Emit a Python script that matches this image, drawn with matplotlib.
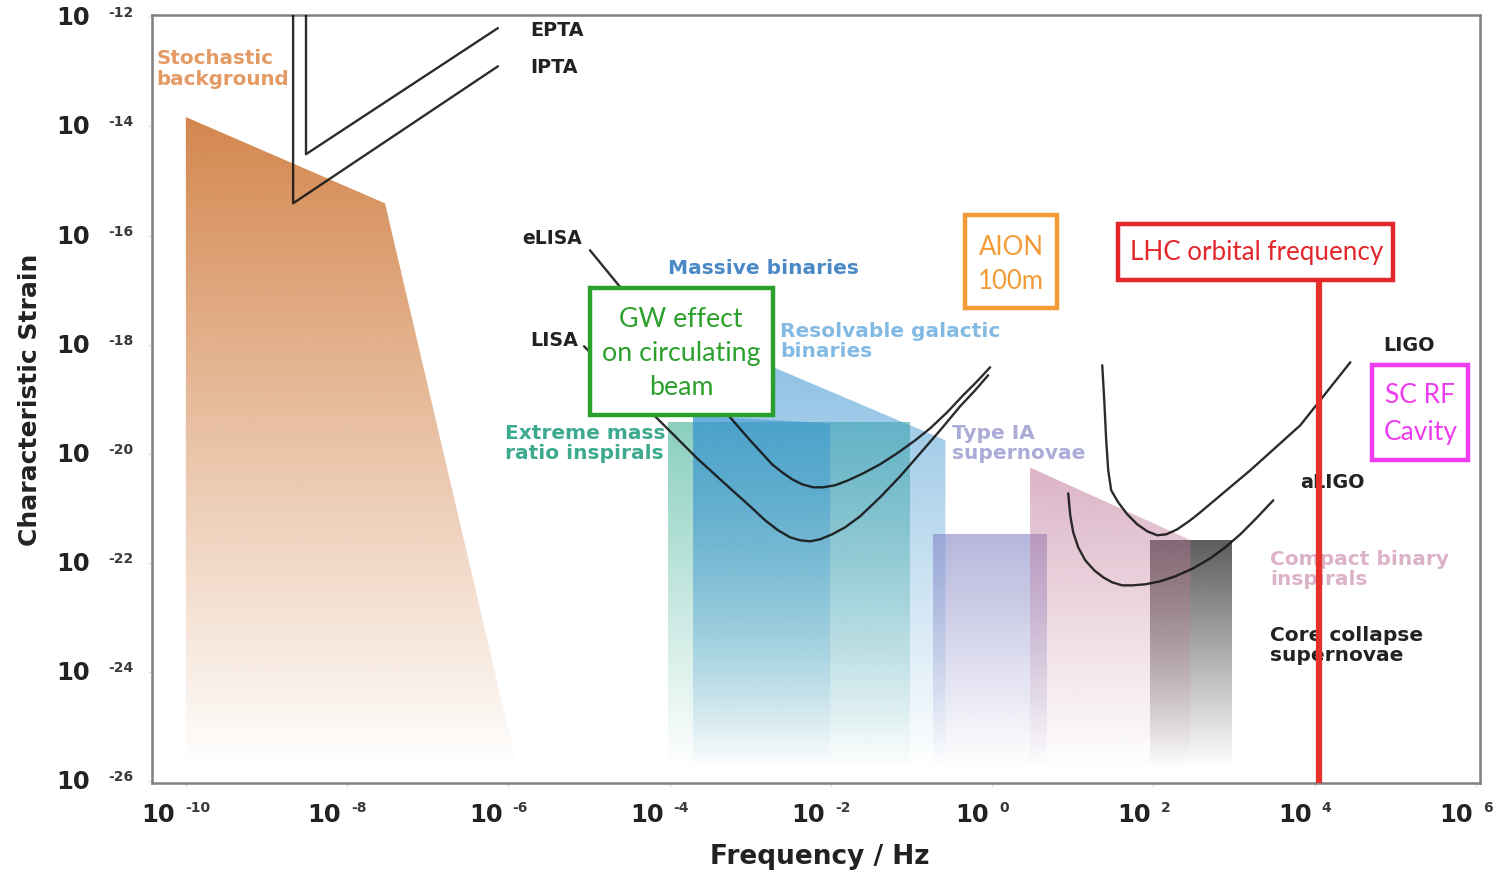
import numpy as np
import matplotlib
matplotlib.use("Agg")
import matplotlib.pyplot as plt
import matplotlib.colors as mcolors
from matplotlib.patches import Polygon, Rectangle
from matplotlib import transforms as mtrans

# ---------------- data (log10 values) ----------------
xtick_exps = [-10, -8, -6, -4, -2, 0, 2, 4, 6]
ytick_exps = [-12, -14, -16, -18, -20, -22, -24, -26]

# source regions (log10 f, log10 h)
stoch_logf = [-10.0, -7.53, -5.85, -10.0]
stoch_logh = [-13.83, -15.41, -26.0, -26.0]

emri_logf = [-4.02, -1.02, -1.02, -4.02]
emri_logh = [-19.42, -19.42, -26.0, -26.0]

galactic_logf = [-3.71, -0.58, -0.58, -3.71]
galactic_logh = [-17.79, -19.75, -26.0, -26.0]

massive_logf = [-3.71, -2.01, -2.01, -3.71]
massive_logh = [-19.30, -19.44, -26.0, -26.0]

typeia_logf = [-0.73, 0.68, 0.68, -0.73]
typeia_logh = [-21.46, -21.46, -26.0, -26.0]

compact_logf = [0.47, 2.46, 2.46, 0.47]
compact_logh = [-20.25, -21.58, -26.0, -26.0]

corecol_logf = [1.96, 2.98, 2.98, 1.96]
corecol_logh = [-21.58, -21.58, -26.0, -26.0]

# detector curves
epta_logf = [-8.51, -8.51, -6.13]
epta_logh = [-11.9, -14.51, -12.20]
ipta_logf = [-8.67, -8.67, -6.13]
ipta_logh = [-11.9, -15.41, -12.90]

elisa_logf = [-4.988, -4.653, -4.119, -3.623, -3.251, -3.002, -2.854, -2.730, -2.605, -2.481,
              -2.357, -2.221, -2.097, -1.948, -1.787, -1.600, -1.390, -1.179, -0.955, -0.769,
              -0.558, -0.360, -0.186, -0.025]
elisa_logh = [-16.270, -16.874, -17.809, -18.689, -19.330, -19.752, -19.990, -20.191, -20.338, -20.466,
              -20.558, -20.613, -20.613, -20.576, -20.485, -20.357, -20.191, -19.990, -19.752, -19.532,
              -19.238, -18.927, -18.670, -18.414]

lisa_logf = [-5.062, -4.615, -4.156, -3.660, -3.251, -3.002, -2.816, -2.655, -2.506, -2.382,
             -2.258, -2.134, -1.985, -1.824, -1.638, -1.390, -1.141, -0.893, -0.645, -0.397,
             -0.211, -0.050]
lisa_logh = [-18.029, -18.689, -19.348, -20.081, -20.631, -20.961, -21.217, -21.401, -21.529, -21.584,
             -21.602, -21.566, -21.474, -21.346, -21.144, -20.796, -20.411, -19.990, -19.568, -19.128,
             -18.835, -18.560]

ligo_logf = [1.365, 1.390, 1.414, 1.439, 1.476, 1.563, 1.675, 1.799, 1.923, 2.047, 2.159,
             2.295, 2.457, 2.581, 3.201, 3.821, 4.442]
ligo_logh = [-18.377, -19.018, -19.751, -20.301, -20.668, -20.888, -21.107, -21.291, -21.419, -21.492, -21.474,
             -21.383, -21.217, -21.071, -20.301, -19.477, -18.322]

aligo_logf = [0.943, 0.968, 1.005, 1.067, 1.154, 1.266, 1.377, 1.489, 1.613, 1.737, 1.898, 2.084,
              2.270, 2.494, 2.705, 2.891, 3.077, 3.275, 3.486]
aligo_logh = [-20.723, -21.126, -21.437, -21.712, -21.950, -22.134, -22.262, -22.354, -22.409, -22.409,
              -22.390, -22.335, -22.244, -22.097, -21.914, -21.712, -21.474, -21.181, -20.851]

lhc_orbital_freq = 11245.0  # Hz

XMIN_LOG, XMAX_LOG = -10.42, 6.05
YMIN_LOG, YMAX_LOG = -26.03, -11.96

# ---------------- figure ----------------
fig = plt.figure(figsize=(14.93, 8.74), dpi=100)
ax = fig.add_axes([152/1493, 1-783/874, (1480-152)/1493, (783-15)/874])
ax.set_xscale('log')
ax.set_yscale('log')
ax.set_xlim(10**XMIN_LOG, 10**XMAX_LOG)
ax.set_ylim(10**YMIN_LOG, 10**YMAX_LOG)
ax.set_autoscale_on(False)

def grad_fill(logf, logh, color, a_top, z):
    xs = 10**np.asarray(logf, float)
    ys = 10**np.asarray(logh, float)
    poly = Polygon(np.column_stack([xs, ys]), closed=True, facecolor='none',
                   edgecolor='none', transform=ax.transData)
    ax.add_patch(poly)
    top = max(logh)
    frac = (top - YMIN_LOG) / (YMAX_LOG - YMIN_LOG)
    bot = (-25.75 - YMIN_LOG) / (YMAX_LOG - YMIN_LOG)
    n = 256
    img = np.zeros((n, 1, 4))
    img[..., :3] = mcolors.to_rgb(color)
    img[..., 3] = np.linspace(0.0, a_top, n)[:, None]
    im = ax.imshow(img, extent=[0, 1, bot, frac], transform=ax.transAxes,
                   origin='lower', aspect='auto', interpolation='bilinear', zorder=z)
    im.set_clip_path(poly)

grad_fill(stoch_logf, stoch_logh, '#d07c3e', 0.92, 1.0)
grad_fill(emri_logf, emri_logh, '#2aa88a', 0.55, 1.1)
grad_fill(galactic_logf, galactic_logh, '#3d95d0', 0.62, 1.2)
grad_fill(massive_logf, massive_logh, '#2f8fd0', 0.45, 1.3)
grad_fill(typeia_logf, typeia_logh, '#8080c4', 0.58, 1.4)
grad_fill(corecol_logf, corecol_logh, '#343434', 0.80, 1.5)
grad_fill(compact_logf, compact_logh, '#c07898', 0.56, 1.6)

# detector curves
lc = '#151515'
for lf, lh in [(epta_logf, epta_logh), (ipta_logf, ipta_logh),
               (elisa_logf, elisa_logh), (lisa_logf, lisa_logh),
               (ligo_logf, ligo_logh), (aligo_logf, aligo_logh)]:
    ax.plot(10**np.asarray(lf), 10**np.asarray(lh), color=lc, lw=1.7, zorder=3,
            solid_joinstyle='round', solid_capstyle='round', alpha=0.9)

# LHC orbital frequency line
ax.plot([lhc_orbital_freq, lhc_orbital_freq], [10**YMIN_LOG, 10**-16.6],
        color='#e8302a', lw=4.5, zorder=4, solid_capstyle='butt')

# ---------------- labels ----------------
bold = dict(family='DejaVu Sans', fontweight='bold')
def lab(lf, lh, s, color, size=14.5, z=0.5):
    ax.text(10**lf, 10**lh, s, color=color, fontsize=size, ha='left', va='center',
            zorder=z, linespacing=1.12, **bold)

lab(-10.36, -12.95, 'Stochastic\nbackground', '#e39a64', 14.3)
lab(-5.73, -12.24, 'EPTA', '#222222', 13.8, 3)
lab(-5.73, -12.93, 'IPTA', '#222222', 13.8, 3)
lab(-5.83, -16.05, 'eLISA', '#222222', 13.5, 3)
lab(-5.73, -17.92, 'LISA', '#222222', 13.8, 3)
lab(-4.02, -16.60, 'Massive binaries', '#4a88c6')
lab(-2.63, -17.94, 'Resolvable galactic\nbinaries', '#82bae4')
lab(-6.04, -19.81, 'Extreme mass\nratio inspirals', '#3daa8f')
lab(-0.50, -19.81, 'Type IA\nsupernovae', '#ababd8')
lab(3.45, -22.12, 'Compact binary\ninspirals', '#dcb2c8')
lab(3.45, -23.51, 'Core collapse\nsupernovae', '#222222')
lab(4.85, -18.01, 'LIGO', '#222222', 13.8, 3)
lab(3.82, -20.52, 'aLIGO', '#222222', 13.8, 3)

def box(f0, f1, h0, h1, tf, th, s, color, size, ls):
    ax.add_patch(Rectangle((10**f0, 10**h0), 10**f1 - 10**f0, 10**h1 - 10**h0,
                           facecolor='white', edgecolor=color, linewidth=3.2, zorder=6))
    ax.text(10**tf, 10**th, s, color=color, fontsize=size, ha='center', va='center',
            family='Lato', linespacing=ls, zorder=7)

box(-4.988, -2.717, -19.293, -16.966, -3.859, -18.166,
    'GW effect\non circulating\nbeam', '#2ca02c', 19.3, 1.44)
box(-0.335, 0.806, -17.333, -15.628, 0.236, -16.526, 'AION\n100m', '#f39b36', 18.5, 1.43)
box(1.563, 4.975, -16.819, -15.793, 3.275, -16.306, 'LHC orbital frequency', '#e3262a', 18.7, 1.2)
box(4.715, 5.906, -20.118, -18.377, 5.310, -19.266, 'SC RF\nCavity', '#f03cf0', 19, 1.59)

# ---------------- axes styling ----------------
for sp in ax.spines.values():
    sp.set_color('#808080')
    sp.set_linewidth(1.8)

ax.set_xticks([10.0**k for k in xtick_exps])
ax.set_yticks([10.0**k for k in ytick_exps])
ax.set_xticklabels([])
ax.set_yticklabels([])
ax.minorticks_off()
ax.tick_params(length=3, color='#dddddd', width=1)

bx = mtrans.blended_transform_factory(ax.transData, ax.transAxes)
by = mtrans.blended_transform_factory(ax.transAxes, ax.transData)
renderer = fig.canvas.get_renderer()
GAP = 10
for k in xtick_exps:
    t10 = ax.text(10.0**k, 0, '10', ha='left', va='center', fontsize=17.5,
                  color='#222222', clip_on=False, **bold)
    tex = ax.text(10.0**k, 0, '%d' % k, ha='left', va='center', fontsize=10,
                  color='#3a3a3a', clip_on=False, **bold)
    w10 = t10.get_window_extent(renderer).width
    wex = tex.get_window_extent(renderer).width
    left = -10 - (w10 + GAP + wex) / 2.0
    t10.set_transform(mtrans.offset_copy(bx, fig, x=left, y=-32, units='dots'))
    tex.set_transform(mtrans.offset_copy(bx, fig, x=left + w10 + GAP, y=-25, units='dots'))
for k in ytick_exps:
    ax.text(0, 10.0**k, '10', transform=mtrans.offset_copy(by, fig, x=-62, y=-1, units='dots'),
            ha='right', va='center', fontsize=17.5, color='#222222', clip_on=False, **bold)
    ax.text(0, 10.0**k, '%d' % k, transform=mtrans.offset_copy(by, fig, x=-44, y=4, units='dots'),
            ha='left', va='center', fontsize=10, color='#3a3a3a', clip_on=False, **bold)

ax.set_xlabel('Frequency / Hz', fontsize=19, color='#222222', **bold)
ax.set_ylabel('Characteristic Strain', fontsize=18, color='#222222', **bold)
ax.xaxis.set_label_coords(0.503, -0.080)
ax.yaxis.set_label_coords(-0.083, 0.499)

ax.set_xlim(10**XMIN_LOG, 10**XMAX_LOG)
ax.set_ylim(10**YMIN_LOG, 10**YMAX_LOG)
fig.savefig('out.png', dpi=100)
